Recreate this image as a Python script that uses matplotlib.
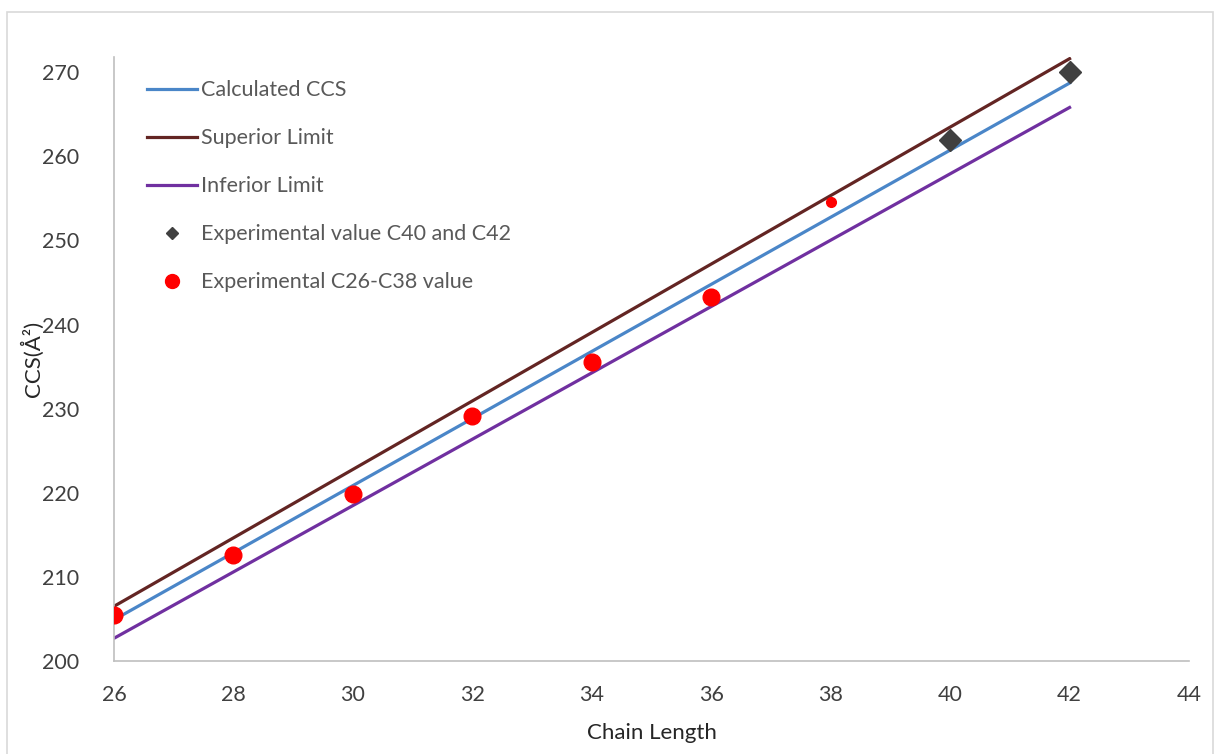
import matplotlib
matplotlib.use("Agg")
import matplotlib.pyplot as plt
from matplotlib.patches import Rectangle

plt.rcParams['font.family'] = ['Lato', 'DejaVu Sans']

# Dati
line_x = [26, 42]
calculated = [204.9, 268.7]
superior = [206.5, 271.6]
inferior = [202.7, 265.8]

exp_x = [26, 28, 30, 32, 34, 36, 38]
exp_ccs = [205.5, 212.6, 219.8, 229.1, 235.5, 243.3, 254.6]

c40_x = [40, 42]
c40_ccs = [261.9, 270.0]

x_ticks = [26, 28, 30, 32, 34, 36, 38, 40, 42, 44]
y_ticks = [200, 210, 220, 230, 240, 250, 260, 270]

fig = plt.figure(figsize=(12.2, 7.54), dpi=100)
ax = fig.add_axes([0.0934, 0.1233, 0.8812, 0.8011])

# bordo del grafico
fig.patches.append(Rectangle((7 / 1220, -0.05), 1206 / 1220, 1 - 12 / 754 + 0.05,
                             transform=fig.transFigure, fill=False,
                             edgecolor="#d9d9d9", linewidth=1.2))

ax.plot(line_x, calculated, color="#4a86c8", lw=2.3, label="Calculated CCS", zorder=2)
ax.plot(line_x, superior, color="#632523", lw=2.3, label="Superior Limit", zorder=2)
ax.plot(line_x, inferior, color="#7030a0", lw=2.3, label="Inferior Limit", zorder=2)
ax.plot(c40_x, c40_ccs, "D", color="#404040", ms=11, ls="none",
        label="Experimental value C40 and C42", zorder=3)
ax.plot(exp_x[:-1], exp_ccs[:-1], "o", color="#ff0000", ms=12, ls="none",
        label="Experimental C26-C38 value", zorder=3)
ax.plot(exp_x[-1:], exp_ccs[-1:], "o", color="#ff0000", ms=7, ls="none", zorder=3)

ax.set_xlim(26, 44)
ax.set_ylim(200, 271.8)
ax.set_xticks(x_ticks)
ax.set_yticks(y_ticks)
ax.tick_params(length=0, labelsize=15.5, colors="#404040")
ax.tick_params(axis="x", pad=17)
ax.tick_params(axis="y", pad=25)
for s in ["top", "right"]:
    ax.spines[s].set_visible(False)
for s in ["left", "bottom"]:
    ax.spines[s].set_color("#bfbfbf")
    ax.spines[s].set_linewidth(1.2)

ax.set_xlabel("Chain Length", fontsize=16, color="#262626", va="center")
ax.set_ylabel("CCS(Å²)", fontsize=16, color="#262626", va="center")
ax.xaxis.set_label_coords(0.5, -0.119)
ax.yaxis.set_label_coords(-0.0763, 0.5)

leg = ax.legend(loc="upper left", bbox_to_anchor=(128 / 1220, 1 - 61 / 754),
                bbox_transform=fig.transFigure, frameon=False, fontsize=15.5,
                handlelength=2.3, handletextpad=0.2, labelspacing=1.3)
leg.legend_handles[3].set_markersize(6)
leg.legend_handles[4].set_markersize(10)
for t in leg.get_texts():
    t.set_color("#595959")

fig.savefig("out.png", dpi=100)
